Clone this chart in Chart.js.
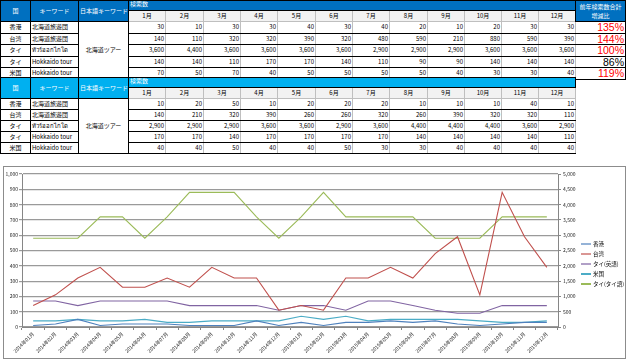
<!DOCTYPE html>
<html>
<head>
<meta charset="utf-8">
<script src="https://cdn.jsdelivr.net/npm/chart.js@4.4.0/dist/chart.umd.min.js"></script>
<style>
  body { margin: 0; background: #fff; width: 629px; height: 364px; overflow: hidden; position: relative;
         font-family: 'Noto Sans CJK JP', 'DejaVu Sans', sans-serif; }
  table { position: absolute; left: 0; border-collapse: collapse; table-layout: fixed; font-size: 6px; line-height: 1; }
  td { padding: 0 1px; border: 1px solid #000; white-space: nowrap; overflow: hidden; }
  .hd { color: #fff; text-align: center; font-size: 6px; }
  .t1 .hd { background: #0070C0; }
  .t2 .hd { background: #00B0F0; }
  .mon td { background: #f2f2f2; border-color: #bfbfbf; text-align: center; }
  .num { text-align: right; border-left-color: #bfbfbf; border-right-color: #bfbfbf; }
  .pct { text-align: right; font-size: 10.5px; font-family: 'Liberation Sans', sans-serif; }
  #box { position: absolute; left: 3px; top: 166px; width: 623px; height: 193px; border: 1px solid #8c8c8c; box-sizing: border-box; }
  #leyenda { position: absolute; left: 581px; top: 239px; font-size: 5.5px; }
  #leyenda div { height: 10px; display: flex; align-items: center; }
  #leyenda span.l { display: inline-block; width: 10px; height: 2px; margin-right: 2px; }
</style>
</head>
<body>
<div id="tablas"></div>
<div id="box"><canvas id="grafico"></canvas></div>
<div id="leyenda"></div>
<script>
// datos de las tablas y del grafico
const paises = ['香港', '台湾', 'タイ', 'タイ', '米国'];
const palabras = ['北海道旅遊団', '北海道旅遊団', 'ทัวร์ฮอกไกโด', 'Hokkaido tour', 'Hokkaido tour'];
const palabraJp = '北海道ツアー';
const meses = ['1月', '2月', '3月', '4月', '5月', '6月', '7月', '8月', '9月', '10月', '11月', '12月'];

// 2015 (tabla de arriba)
const hk2015 = [30, 10, 30, 30, 40, 30, 40, 20, 10, 20, 30, 30];
const tw2015 = [140, 110, 320, 320, 390, 320, 480, 590, 210, 880, 590, 390];
const thTh2015 = [3600, 4400, 3600, 3600, 3600, 3600, 2900, 2900, 2900, 3600, 3600, 3600];
const thEn2015 = [140, 140, 110, 170, 170, 140, 110, 90, 90, 140, 140, 140];
const us2015 = [70, 50, 70, 40, 50, 50, 50, 50, 40, 30, 30, 40];
const variacion = ['135%', '144%', '100%', '86%', '119%'];

// 2014 (tabla de abajo)
const hk2014 = [10, 20, 50, 10, 20, 20, 20, 10, 10, 10, 40, 10];
const tw2014 = [140, 210, 320, 390, 260, 260, 320, 260, 390, 320, 320, 110];
const thTh2014 = [2900, 2900, 2900, 3600, 3600, 2900, 3600, 4400, 4400, 4400, 3600, 2900];
const thEn2014 = [170, 170, 140, 170, 170, 170, 170, 140, 140, 140, 140, 110];
const us2014 = [40, 40, 50, 40, 40, 50, 30, 30, 40, 40, 40, 40];

const etiquetas = [];
['2014', '2015'].forEach(a => meses.forEach((m, i) => etiquetas.push(a + '年' + String(i + 1).padStart(2, '0') + '月')));

const series = [
  { nombre: '香港', color: '#4F81BD', leyenda: '#95B3D7', datos: hk2014.concat(hk2015), eje: 'y' },
  { nombre: '台湾', color: '#C0504D', leyenda: '#DA9694', datos: tw2014.concat(tw2015), eje: 'y' },
  { nombre: 'タイ(英語)', color: '#8064A2', leyenda: '#B1A0C7', datos: thEn2014.concat(thEn2015), eje: 'y' },
  { nombre: '米国', color: '#4BACC6', leyenda: '#4BACC6', datos: us2014.concat(us2015), eje: 'y' },
  { nombre: 'タイ(タイ語)', color: '#9BBB59', leyenda: '#9BBB59', datos: thTh2014.concat(thTh2015), eje: 'y1' }
];

const fmt = n => n.toLocaleString('en-US');

// tablas
function armarTabla(clase, top, filas, conPct) {
  const anchos = [30, 48, 50, 37, 38, 37, 37, 38, 37, 37, 38, 37, 37, 37, 37];
  let h = `<table class="${clase}" style="top:${top}px;width:${conPct ? 625 : 575}px">`;
  h += '<colgroup>' + anchos.map(w => `<col style="width:${w}px">`).join('') + (conPct ? '<col style="width:50px">' : '') + '</colgroup>';
  h += `<tr style="height:10px"><td class="hd" rowspan="2">国</td><td class="hd" rowspan="2">キーワード</td><td class="hd" rowspan="2">日本語キーワード</td><td class="hd" colspan="12" style="text-align:left;vertical-align:top">検索数</td>`;
  if (conPct) h += '<td class="hd" rowspan="2" style="line-height:1.5">前年検索数合計<br>増減比</td>';
  h += '</tr><tr class="mon" style="height:11px">' + meses.map(m => `<td>${m}</td>`).join('') + '</tr>';
  filas.forEach((f, i) => {
    h += '<tr style="height:11px">';
    h += `<td style="text-align:center">${paises[i]}</td><td>${palabras[i]}</td>`;
    if (i === 0) h += `<td rowspan="5" style="text-align:center">${palabraJp}</td>`;
    h += f.map(v => `<td class="num">${fmt(v)}</td>`).join('');
    if (conPct) {
      const c = parseInt(variacion[i]) >= 100 ? '#ff0000' : '#000';
      h += `<td class="pct" style="color:${c}">${variacion[i]}</td>`;
    }
    h += '</tr>';
  });
  return h + '</table>';
}

document.getElementById('tablas').innerHTML =
  armarTabla('t1', 0, [hk2015, tw2015, thTh2015, thEn2015, us2015], true) +
  armarTabla('t2', 77, [hk2014, tw2014, thTh2014, thEn2014, us2014], false);

// leyenda
document.getElementById('leyenda').innerHTML = series.map(s =>
  `<div><span class="l" style="background:${s.leyenda}"></span>${s.nombre}</div>`).join('');

// grafico
const fuente = { family: "'Noto Sans CJK JP', sans-serif", size: 5 };
const ctx = document.getElementById('grafico').getContext('2d');
new Chart(ctx, {
  type: 'line',
  data: {
    labels: etiquetas,
    datasets: series.map(s => ({
      label: s.nombre, data: s.datos, yAxisID: s.eje,
      borderColor: s.color, backgroundColor: s.color,
      borderWidth: 1.1, pointRadius: 0, tension: 0, fill: false
    }))
  },
  options: {
    responsive: true, maintainAspectRatio: false, animation: false,
    layout: { padding: { top: 7, left: 0, right: 45, bottom: 0 } },
    plugins: { legend: { display: false }, tooltip: { enabled: false } },
    scales: {
      x: {
        offset: true,
        grid: { display: true, drawOnChartArea: false, offset: true, tickLength: 3, color: '#868686' },
        border: { color: '#868686' },
        ticks: { font: fuente, color: '#222', maxRotation: 45, minRotation: 45, autoSkip: false, padding: 1 },
        afterFit: s => { s.height = 31; s.paddingLeft = 0; s.paddingRight = 0; }
      },
      y: {
        position: 'left', min: 0, max: 1000,
        grid: { color: '#9a9a9a', lineWidth: 1.2, tickLength: 3 },
        border: { color: '#868686' },
        ticks: { stepSize: 100, font: fuente, color: '#222', padding: 1, callback: v => fmt(v) },
        afterFit: s => { s.width = 18; s.paddingTop = 0; s.paddingBottom = 0; }
      },
      y1: {
        position: 'right', min: 0, max: 5000,
        grid: { drawOnChartArea: false, tickLength: 3, color: '#868686' },
        border: { color: '#868686' },
        ticks: { stepSize: 500, font: fuente, color: '#222', padding: 2, callback: v => fmt(v) },
        afterFit: s => { s.width = 22; s.paddingTop = 0; s.paddingBottom = 0; }
      }
    }
  }
});
</script>
</body>
</html>
